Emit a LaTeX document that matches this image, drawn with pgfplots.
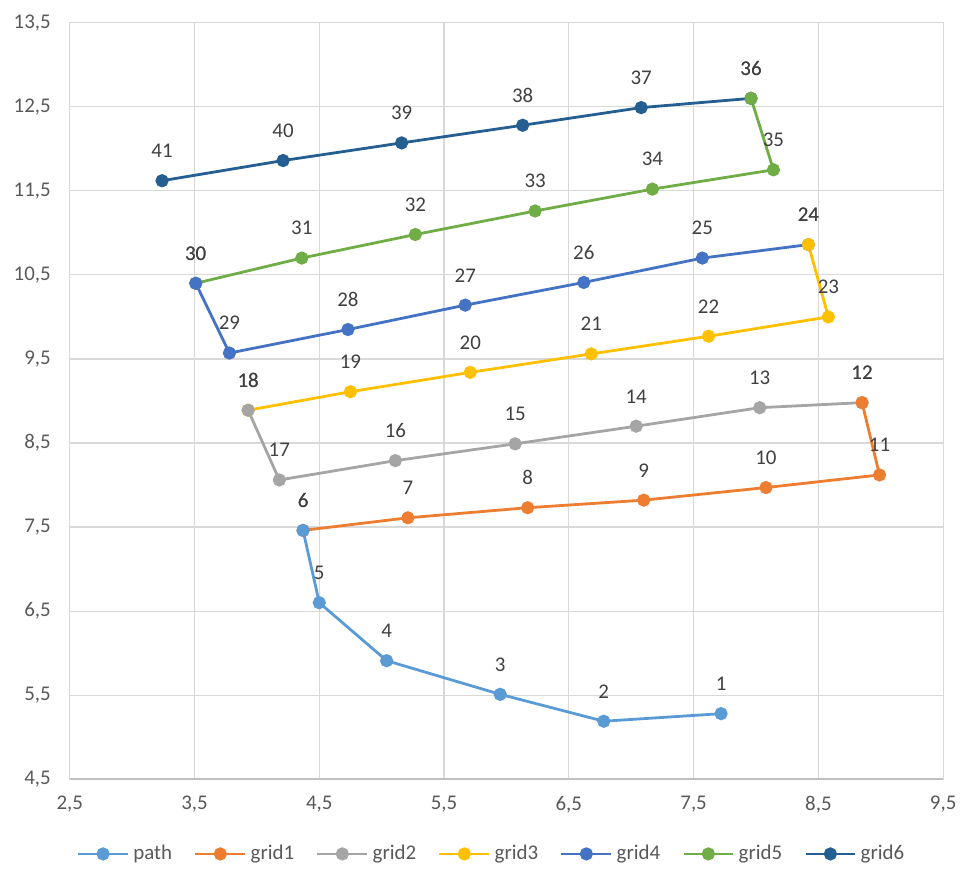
\documentclass[border=0pt]{standalone}
\usepackage{pgfplots}
\pgfplotsset{compat=1.18}
\usepackage{fontspec}
\setmainfont{Carlito}
\definecolor{cpath}{HTML}{5B9BD5}
\definecolor{cgA}{HTML}{ED7D31}
\definecolor{cgB}{HTML}{A5A5A5}
\definecolor{cgC}{HTML}{FFC000}
\definecolor{cgD}{HTML}{4472C4}
\definecolor{cgE}{HTML}{70AD47}
\definecolor{cgF}{HTML}{255E91}
\definecolor{ticktext}{HTML}{595959}
\definecolor{labtext}{HTML}{404040}
\definecolor{gridc}{HTML}{D9D9D9}
\definecolor{axc}{HTML}{BFBFBF}
\begin{document}
\begin{tikzpicture}
\begin{axis}[name=ax, scale only axis, width=438.5pt, height=379.8pt,
  xmin=2.5, xmax=9.5, ymin=4.5, ymax=13.5,
  xtick={2.5,3.5,4.5,5.5,6.5,7.5,8.5,9.5},
  ytick={4.5,5.5,6.5,7.5,8.5,9.5,10.5,11.5,12.5,13.5},
  grid=major, major grid style={gridc, line width=0.6pt},
  axis line style={gridc, line width=0.6pt},
  major tick length=0pt,
  tick label style={font=\fontsize{10.5}{12}\selectfont, text=ticktext},
  /pgf/number format/use comma, /pgf/number format/fixed,
  /pgf/number format/fixed zerofill, /pgf/number format/precision=1,
  /pgf/number format/assume math mode=true,
  xticklabel style={yshift=-5pt}, yticklabel style={xshift=-6pt},
  legend columns=-1, reverse legend,
  legend style={at={(0.5,0)}, anchor=center, yshift=-37.5pt, xshift=-7pt,
    draw=none, font=\fontsize{10.5}{12}\selectfont, text=ticktext,
    /tikz/every even column/.append style={column sep=9pt}},
  legend image code/.code={\draw[mark repeat=2,mark phase=2] plot coordinates {(0pt,0pt) (12.5pt,0pt) (25pt,0pt)};},
  nodes near coords, point meta=explicit symbolic,
  nodes near coords style={font=\fontsize{10.5}{12}\selectfont, text=labtext, anchor=center, yshift=15pt},
  every axis plot/.append style={line width=1.4pt, mark=*, mark size=2.6pt, mark options={solid}},
]
\draw[axc, line width=0.8pt] (rel axis cs:0,0) -- (rel axis cs:1,0);
\addplot[cgF] table[meta=l] {
x y l
7.96 12.60 36
7.08 12.49 37
6.13 12.28 38
5.16 12.07 39
4.21 11.86 40
3.24 11.62 41
};
\addlegendentry{grid6}
\addplot[cgE] table[meta=l] {
x y l
3.51 10.40 30
4.36 10.70 31
5.27 10.98 32
6.23 11.26 33
7.17 11.52 34
8.14 11.75 35
7.96 12.60 36
};
\addlegendentry{grid5}
\addplot[cgD] table[meta=l] {
x y l
8.42 10.86 24
7.57 10.70 25
6.62 10.41 26
5.67 10.14 27
4.73 9.85 28
3.78 9.57 29
3.51 10.40 30
};
\addlegendentry{grid4}
\addplot[cgC] table[meta=l] {
x y l
3.93 8.89 18
4.75 9.11 19
5.71 9.34 20
6.68 9.56 21
7.62 9.77 22
8.58 10.00 23
8.42 10.86 24
};
\addlegendentry{grid3}
\addplot[cgB] table[meta=l] {
x y l
8.85 8.98 12
8.03 8.92 13
7.04 8.70 14
6.07 8.49 15
5.11 8.29 16
4.18 8.06 17
3.93 8.89 18
};
\addlegendentry{grid2}
\addplot[cgA] table[meta=l] {
x y l
4.37 7.46 6
5.21 7.61 7
6.17 7.73 8
7.10 7.82 9
8.08 7.97 10
8.99 8.12 11
8.85 8.98 12
};
\addlegendentry{grid1}
\addplot[cpath] table[meta=l] {
x y l
7.72 5.28 1
6.78 5.19 2
5.95 5.51 3
5.04 5.91 4
4.50 6.60 5
4.37 7.46 6
};
\addlegendentry{path}
\end{axis}
\path ([xshift=-35pt,yshift=-45.3pt]ax.south west) rectangle ([xshift=8pt,yshift=11.4pt]ax.north east);
\end{tikzpicture}
\end{document}
